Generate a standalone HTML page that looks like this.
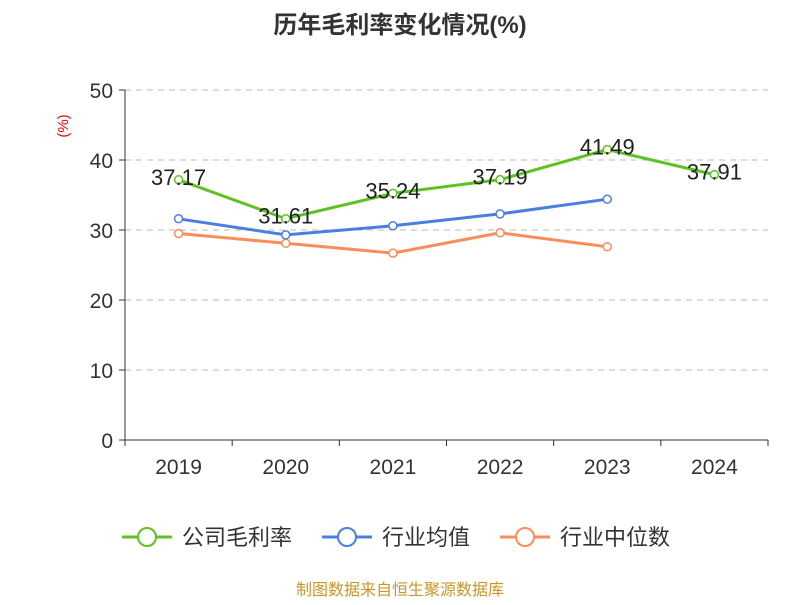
<!DOCTYPE html>
<html><head><meta charset="utf-8"><style>
body{margin:0;background:#fff;font-family:"Liberation Sans","Noto Sans CJK SC",sans-serif}
svg text{font-family:"Liberation Sans","Noto Sans CJK SC",sans-serif}
</style></head><body>
<svg id="c" width="800" height="600">
<text x="400" y="33" text-anchor="middle" font-size="24" font-weight="bold" fill="#333">历年毛利率变化情况(%)</text>
<text x="68" y="126" text-anchor="middle" font-size="15" fill="#e00" transform="rotate(-90 68 126)">(%)</text>
<g id="grid"></g><g id="axes"></g><g id="series"></g>
<g>
<g><line x1="122" y1="537" x2="172" y2="537" stroke="#5cc322" stroke-width="3"/><circle cx="147" cy="537" r="9" fill="#fff" stroke="#5cc322" stroke-width="2"/><text x="182" y="545" font-size="22" fill="#333">公司毛利率</text></g>
<g><line x1="322" y1="537" x2="372" y2="537" stroke="#4a7fe0" stroke-width="3"/><circle cx="347" cy="537" r="9" fill="#fff" stroke="#4a7fe0" stroke-width="2"/><text x="382" y="545" font-size="22" fill="#333">行业均值</text></g>
<g><line x1="500" y1="537" x2="550" y2="537" stroke="#fb8d59" stroke-width="3"/><circle cx="525" cy="537" r="9" fill="#fff" stroke="#fb8d59" stroke-width="2"/><text x="560" y="545" font-size="22" fill="#333">行业中位数</text></g>
</g>
<text x="400" y="595" text-anchor="middle" font-size="16" fill="#c8962a">制图数据来自恒生聚源数据库</text>
</svg>
<script>
const categories=["2019","2020","2021","2022","2023","2024"];
const company=[37.17,31.61,35.24,37.19,41.49,37.91];
const industryAvg=[31.6,29.3,30.6,32.3,34.4];
const industryMedian=[29.5,28.1,26.7,29.6,27.6];
const yTicks=[0,10,20,30,40,50];
const NS="http://www.w3.org/2000/svg";
const x0=125,x1=768,yb=440,yt=90;
const bw=(x1-x0)/categories.length;
const X=i=>x0+bw*(i+0.5);
const Y=v=>yb-(v/50)*(yb-yt);
function mk(tag,attrs,parent){const e=document.createElementNS(NS,tag);for(const k in attrs)e.setAttribute(k,attrs[k]);parent.appendChild(e);return e;}
const grid=document.getElementById('grid'),axes=document.getElementById('axes'),ser=document.getElementById('series');
yTicks.forEach(t=>{
 if(t>0){const l=mk('line',{x1:x0,x2:x1,y1:Y(t),y2:Y(t),stroke:'#bbb','stroke-dasharray':'6,5'},grid);
 
 }
 const tk=mk('line',{x1:x0-6,x2:x0,y1:Y(t),y2:Y(t),stroke:'#333'},axes);
 const tx=mk('text',{x:x0-12,y:Y(t)+8,'text-anchor':'end','font-size':'21',fill:'#333'},axes);tx.textContent=t;
 
 
});
mk('line',{x1:x0,x2:x0,y1:yt,y2:yb,stroke:'#333'},axes);
mk('line',{x1:x0,x2:x1,y1:yb,y2:yb,stroke:'#333'},axes);
for(let i=0;i<=categories.length;i++)mk('line',{x1:x0+bw*i,x2:x0+bw*i,y1:yb,y2:yb+6,stroke:'#333'},axes);
categories.forEach((c,i)=>{const t=mk('text',{x:X(i),y:474,'text-anchor':'middle','font-size':'21',fill:'#333'},axes);t.textContent=c;
 
 });
function series(vals,color,name,labels){
 const g=mk('g',{},ser);
 
 
 mk('polyline',{points:vals.map((v,i)=>X(i)+','+Y(v)).join(' '),fill:'none',stroke:color,'stroke-width':3},g);
 vals.forEach((v,i)=>{const c=mk('circle',{cx:X(i),cy:Y(v),r:4,fill:'#fff',stroke:color,'stroke-width':1.5},g);
  
  
  if(labels){const t=mk('text',{x:X(i),y:Y(v)+5,'text-anchor':'middle','font-size':'22',fill:'#222'},g);t.textContent=v.toFixed(2);
   
   }
 });
}
series(industryMedian,'#fb8d59','industry-median-line',false);
series(industryAvg,'#4a7fe0','industry-avg-line',false);
series(company,'#5cc322','company-margin-line',true);
</script>
</body></html>
